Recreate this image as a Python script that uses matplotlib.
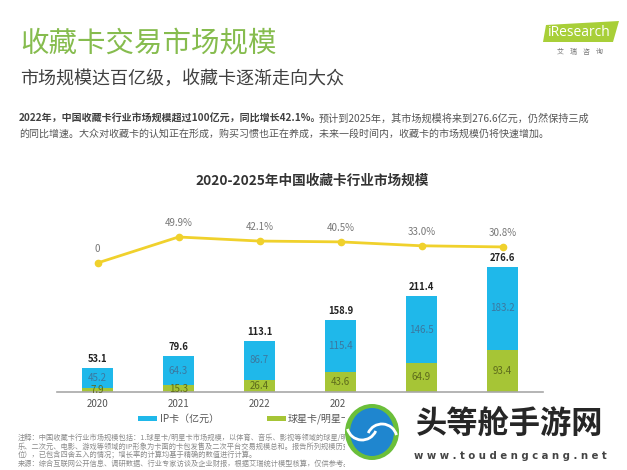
import matplotlib.pyplot as plt
from matplotlib.patches import Rectangle, Polygon, Ellipse, Arc

plt.rcParams['font.family'] = ['Noto Sans CJK SC', 'DejaVu Sans']

# data
years = ['2020', '2021', '2022', '2023', '2024', '2025']
ip_card = [45.2, 64.3, 86.7, 115.4, 146.5, 183.2]
star_card = [7.9, 15.3, 26.4, 43.6, 64.9, 93.4]
totals = [53.1, 79.6, 113.1, 158.9, 211.4, 276.6]
growth = [0, 49.9, 42.1, 40.5, 33.0, 30.8]
growth_labels = ['0', '49.9%', '42.1%', '40.5%', '33.0%', '30.8%']

W, H = 627, 470
BLUE = '#1fb8ea'
GREEN = '#a6c536'
YELLOW = '#f0d12c'


def px(x, y):
    # pixel coords from top-left -> figure fraction
    return x / W, 1 - y / H


fig = plt.figure(figsize=(6.27, 4.70), dpi=100)
fig.patch.set_facecolor('white')

# header texts
fig.text(*px(20, 43), '收藏卡交易市场规模', fontsize=20.5, color='#86bc4e', va='center')
fig.text(*px(20, 79), '市场规模达百亿级，收藏卡逐渐走向大众', fontsize=13, color='#404040', va='center')
fig.text(*px(19, 119), '2022年，中国收藏卡行业市场规模超过100亿元，同比增长42.1%。',
         fontsize=7.2, color='#404040', fontweight='bold', va='center')
fig.text(*px(319, 119), '预计到2025年，其市场规模将来到276.6亿元，仍然保持三成',
         fontsize=7.3, color='#555555', va='center')
fig.text(*px(19, 134), '的同比增速。大众对收藏卡的认知正在形成，购买习惯也正在养成，未来一段时间内，收藏卡的市场规模仍将快速增加。',
         fontsize=7.2, color='#555555', va='center')
fig.text(*px(312, 181), '2020-2025年中国收藏卡行业市场规模', fontsize=9.8, color='#333333',
         fontweight='bold', va='center', ha='center')

# iResearch logo
logo = Polygon([px(546, 25), px(619, 21), px(613, 42), px(543, 42)], closed=True,
               transform=fig.transFigure, facecolor='#a8cf38', edgecolor='none')
fig.patches.append(logo)
fig.text(*px(548, 33), 'iResearch', fontsize=10, color='white', va='center',
         family=['Open Sans', 'DejaVu Sans'])
fig.text(*px(580, 52), '艾    瑞    咨    询', fontsize=5, color='#777777', va='center', ha='center')

# chart axes
left, right = px(57, 392)[0], px(543, 392)[0]
bottom, top = px(0, 392)[1], px(0, 200)[1]
ax = fig.add_axes([left, bottom, right - left, top - bottom])
x = list(range(len(years)))
bw = 0.39
ax.bar(x, star_card, width=bw, color=GREEN, zorder=2)
ax.bar(x, ip_card, width=bw, bottom=star_card, color=BLUE, zorder=2)
ax.set_xlim(-0.5, 5.5)
ax.set_ylim(0, 192 / 0.452)
for i in x:
    ax.text(i, star_card[i] / 2, f'{star_card[i]:.1f}', ha='center', va='center',
            fontsize=7, color='#5d6b1c')
    ax.text(i, star_card[i] + ip_card[i] / 2, f'{ip_card[i]:.1f}', ha='center', va='center',
            fontsize=7, color='#3b78a0')
    ax.text(i, totals[i] + 20, f'{totals[i]:.1f}', ha='center', va='center',
            fontsize=6.8, color='#222222', fontweight='bold')
for s in ['top', 'left', 'right']:
    ax.spines[s].set_visible(False)
ax.spines['bottom'].set_color('#a8a8a8')
ax.spines['bottom'].set_linewidth(1.2)
ax.set_yticks([])
ax.set_xticks(x)
ax.set_xticklabels(years, fontsize=7, color='#555555')
ax.tick_params(axis='x', length=0, pad=5)
ax.patch.set_alpha(0)

ax2 = ax.twinx()
ax2.plot(x, growth, color=YELLOW, linewidth=2, marker='o', markersize=4.5, zorder=3)
ax2.set_ylim(-248, 121)
for i in x:
    ax2.text(i, growth[i] + 27, growth_labels[i], ha='center', va='center',
             fontsize=7, color='#777777')
ax2.axis('off')

# legend
fig.patches.append(Rectangle(px(138, 421), 19 / W, 5 / H, transform=fig.transFigure,
                             facecolor=BLUE, edgecolor='none'))
fig.text(*px(160, 419), 'IP卡（亿元）', fontsize=7.2, color='#555555', va='center')
fig.patches.append(Rectangle(px(267, 421), 19 / W, 5 / H, transform=fig.transFigure,
                             facecolor=GREEN, edgecolor='none'))
fig.text(*px(288, 419), '球星卡/明星卡（亿元）', fontsize=7.2, color='#555555', va='center')

# notes
notes = [
    '注释：中国收藏卡行业市场规模包括：1.球星卡/明星卡市场规模，以体育、音乐、影视等领域的球星/明星为卡面的卡包发售及二次平台交易',
    '乐、二次元、电影、游戏等领域的IP形象为卡面的卡包发售及二次平台交易规模总和。报告所列规模历史数据和预测数据均取整数（以亿元为单',
    '位），已包含四舍五入的情况；增长率的计算均基于精确的数值进行计算。',
    '来源：综合互联网公开信息、调研数据、行业专家访谈及企业财报，根据艾瑞统计模型核算，仅供参考。',
]
for k, line in enumerate(notes):
    fig.text(*px(18, 438 + k * 8.5), line, fontsize=5.2, color='#8a8a8a', va='center')

# watermark overlay
fig.patches.append(Rectangle(px(345, 470), 282 / W, 72 / H, transform=fig.transFigure,
                             facecolor='white', edgecolor='none', zorder=10))
fig.patches.append(Ellipse(px(372, 432), 54 / W, 56 / H, transform=fig.transFigure,
                           facecolor='#6bbf3a', edgecolor='none', zorder=11))
fig.patches.append(Ellipse(px(372, 432), 44 / W, 48 / H, transform=fig.transFigure,
                           facecolor='#1f86cf', edgecolor='none', zorder=12))
fig.patches.append(Arc(px(362, 425), 30 / W, 30 / H, theta1=200, theta2=330,
                       transform=fig.transFigure, color='white', linewidth=2, zorder=13))
fig.patches.append(Arc(px(382, 439), 30 / W, 30 / H, theta1=20, theta2=150,
                       transform=fig.transFigure, color='white', linewidth=2, zorder=13))
fig.text(*px(510, 424), '头等舱手游网', fontsize=22.5, color='#262626', fontweight='bold',
         va='center', ha='center', zorder=14)
fig.text(*px(510, 456), ' '.join('www.toudengcang.net'), fontsize=7.3, color='#444444',
         fontweight='bold', va='center', ha='center', family=['DejaVu Sans'], zorder=14)

fig.savefig('out.png', dpi=100)
